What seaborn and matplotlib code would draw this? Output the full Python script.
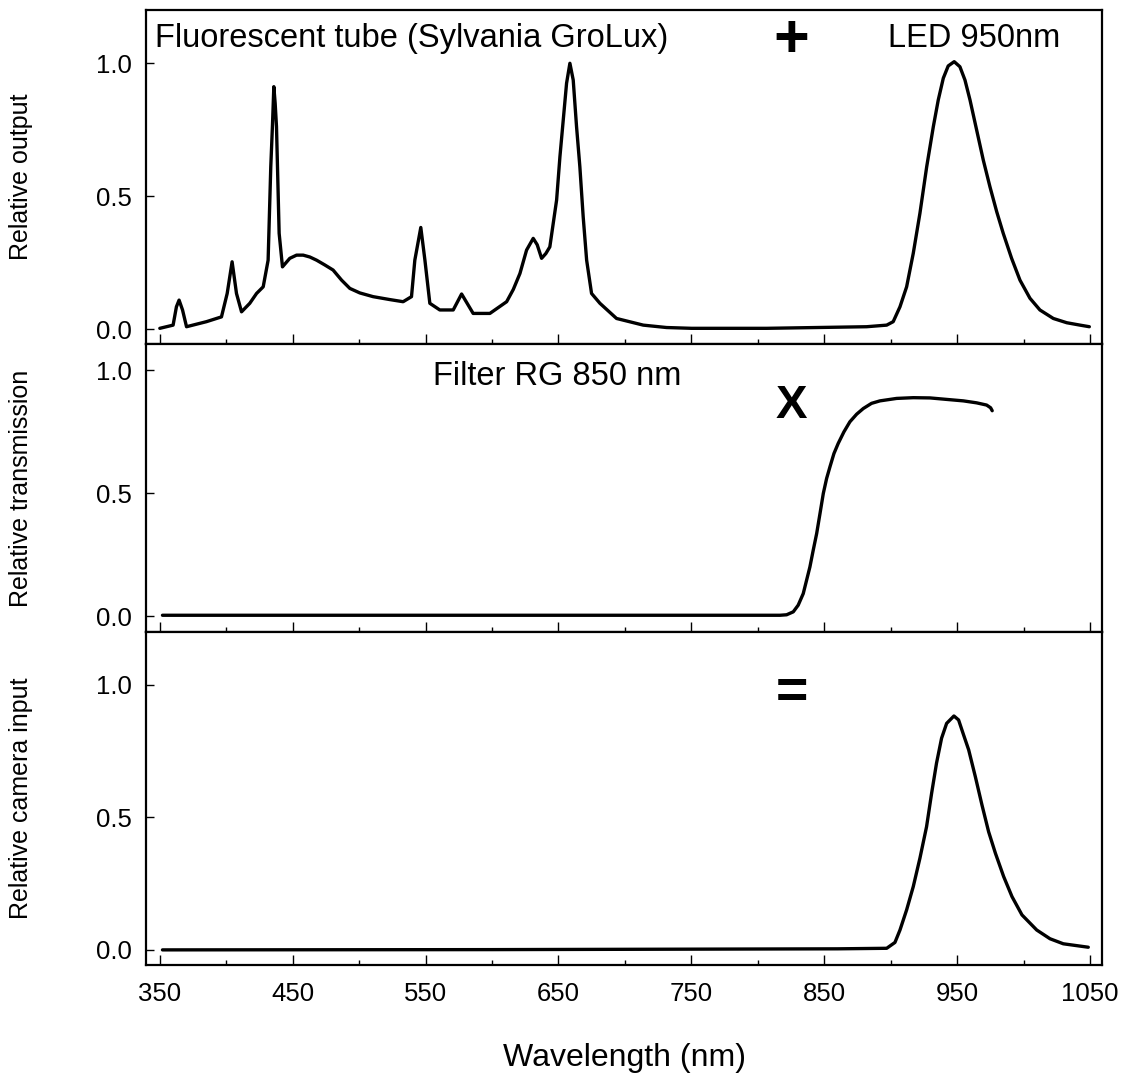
import numpy as np
import pandas as pd
import matplotlib
matplotlib.use("Agg")
import matplotlib.pyplot as plt
import seaborn as sns
from matplotlib.ticker import MultipleLocator

# --------------------------------------------
# Data
# --------------------------------------------
# Fluorescent tube (GroLux) + LED 950nm, relative output
wl_source = [350.0, 360.0, 362.5, 364.5, 367.1, 370.1, 385.1, 396.4, 400.7, 404.4,
             407.7, 411.5, 417.7, 422.8, 427.8, 431.5, 433.5, 434.8, 435.8, 436.8,
             437.8, 439.8, 442.3, 447.8, 452.9, 457.9, 462.9, 468.0, 474.2, 480.4,
             486.8, 493.0, 500.5, 510.5, 523.1, 533.1, 539.4, 541.9, 546.4, 549.5,
             553.2, 560.7, 570.8, 577.1, 585.8, 598.4, 611.0, 616.0, 621.0, 626.0,
             631.0, 634.0, 637.3, 640.5, 643.5, 648.6, 651.1, 653.6, 656.1, 658.6,
             661.1, 663.6, 666.1, 668.6, 671.2, 674.9, 681.2, 693.7, 713.8, 731.3,
             750.2, 806.6, 881.9, 897.0, 901.9, 907.0, 912.0, 917.0, 922.0, 927.1,
             932.1, 935.8, 939.6, 943.3, 947.8, 952.1, 955.9, 959.7, 964.7, 969.7,
             974.7, 979.8, 984.7, 991.0, 997.3, 1004.8, 1012.3, 1022.4, 1032.5, 1042.5,
             1049.5]
out_source = [0.004, 0.016, 0.085, 0.110, 0.073, 0.010, 0.029, 0.047, 0.135, 0.254,
              0.135, 0.066, 0.098, 0.135, 0.160, 0.260, 0.611, 0.770, 0.912, 0.850,
              0.762, 0.361, 0.235, 0.267, 0.279, 0.279, 0.272, 0.260, 0.242, 0.223,
              0.185, 0.154, 0.137, 0.123, 0.112, 0.104, 0.123, 0.260, 0.383, 0.260,
              0.098, 0.073, 0.073, 0.133, 0.060, 0.060, 0.104, 0.150, 0.210, 0.298,
              0.342, 0.318, 0.267, 0.285, 0.310, 0.486, 0.649, 0.787, 0.925, 1.000,
              0.937, 0.762, 0.611, 0.423, 0.260, 0.135, 0.098, 0.041, 0.016, 0.007,
              0.004, 0.004, 0.010, 0.016, 0.029, 0.085, 0.160, 0.286, 0.436, 0.611,
              0.762, 0.862, 0.944, 0.990, 1.006, 0.987, 0.937, 0.862, 0.749, 0.636,
              0.536, 0.442, 0.361, 0.267, 0.185, 0.117, 0.073, 0.041, 0.025, 0.016,
              0.010]

# Filter RG 850 nm, relative transmission
wl_filter = [352.0, 600.0, 816.7, 821.7, 826.7, 830.4, 834.2, 836.7, 839.2, 841.7,
             844.3, 846.8, 849.3, 851.8, 854.3, 857.3, 860.5, 864.8, 869.3, 874.4,
             879.4, 885.6, 891.9, 904.5, 917.0, 929.6, 942.1, 954.7, 964.7, 972.2,
             975.2, 976.4]
tr_filter = [0.004, 0.004, 0.004, 0.006, 0.018, 0.045, 0.092, 0.146, 0.200, 0.268,
             0.336, 0.417, 0.499, 0.560, 0.607, 0.661, 0.702, 0.749, 0.790, 0.821,
             0.844, 0.865, 0.875, 0.885, 0.888, 0.887, 0.881, 0.875, 0.867, 0.858,
             0.847, 0.835]

# Product, relative camera input
wl_camera = [352.0, 600.0, 860.0, 897.0, 903.2, 907.0, 912.0, 917.0, 922.0, 927.0,
             930.8, 934.5, 938.3, 942.1, 947.6, 951.1, 954.9, 958.7, 963.7, 968.7,
             973.7, 978.8, 985.0, 991.3, 998.8, 1009.9, 1019.9, 1029.9, 1040.0, 1048.7]
in_camera = [0.000, 0.001, 0.004, 0.006, 0.028, 0.075, 0.151, 0.239, 0.346, 0.465,
             0.591, 0.705, 0.799, 0.855, 0.883, 0.868, 0.811, 0.755, 0.654, 0.547,
             0.446, 0.365, 0.277, 0.201, 0.132, 0.075, 0.042, 0.023, 0.016, 0.010]

panels = [
    (wl_source, out_source, "Relative output", (-0.055, 1.2)),
    (wl_filter, tr_filter, "Relative transmission", (-0.064, 1.106)),
    (wl_camera, in_camera, "Relative camera input", (-0.057, 1.2)),
]

# --------------------------------------------
# Style
# --------------------------------------------
sns.set_style("ticks")
plt.rcParams['font.family'] = ['Liberation Sans', 'DejaVu Sans']
plt.rcParams['text.color'] = 'black'
plt.rcParams['axes.labelcolor'] = 'black'
plt.rcParams['xtick.color'] = 'black'
plt.rcParams['ytick.color'] = 'black'

fig = plt.figure(figsize=(11.22, 10.8), dpi=100)
gs = fig.add_gridspec(3, 1, height_ratios=[334, 288, 333], hspace=0,
                      left=0.130, right=0.9825, top=0.9907, bottom=0.1065)

axes = []
for i, (x, y, ylab, ylim) in enumerate(panels):
    ax = fig.add_subplot(gs[i])
    df = pd.DataFrame({"wl": x, "val": y})
    sns.lineplot(data=df, x="wl", y="val", color="black", linewidth=2.4,
                 sort=False, ax=ax)
    ax.set_xlim(339.5, 1059.3)
    ax.set_ylim(*ylim)
    ax.set_yticks([0.0, 0.5, 1.0])
    ax.set_yticklabels(["0.0", "0.5", "1.0"])
    ax.xaxis.set_minor_locator(MultipleLocator(50))
    ax.set_xticks(np.arange(350, 1051, 100))
    ax.tick_params(axis="x", which="major", direction="in", length=7, width=1,
                   labelsize=18.5, pad=12)
    ax.tick_params(axis="x", which="minor", direction="in", length=3.5, width=1)
    ax.tick_params(axis="y", direction="in", length=6, width=1,
                   labelsize=18.5, pad=10)
    for s in ax.spines.values():
        s.set_linewidth(1.6)
        s.set_color("black")
    ax.set_ylabel(ylab, fontsize=18)
    ax.yaxis.set_label_coords(-0.118, 0.5)
    ax.set_xlabel("")
    if i < 2:
        ax.tick_params(axis="x", labelbottom=False)
    axes.append(ax)

ax1, ax2, ax3 = axes

ax3.set_xticklabels([str(v) for v in range(350, 1051, 100)])
ax3.set_xlabel("Wavelength (nm)", fontsize=23)
ax3.xaxis.set_label_coords(0.5, -0.235)

# annotations
ax1.text(346.2, 1.062, "Fluorescent tube (Sylvania GroLux)", fontsize=23.5,
         ha="left", va="baseline")
ax1.text(898.2, 1.062, "LED 950nm", fontsize=23.5, ha="left", va="baseline")
ax1.text(825.4, 1.106, "+", fontsize=44, fontweight="bold",
         ha="center", va="center_baseline")
ax2.text(555.7, 0.939, "Filter RG 850 nm", fontsize=23.5, ha="left", va="baseline")
ax2.text(825.4, 0.876, "X", fontsize=34, fontweight="bold",
         ha="center", va="center_baseline")
ax3.text(825.4, 0.987, "=", fontsize=40, fontweight="bold",
         ha="center", va="center_baseline")

plt.savefig("out.png", dpi=100)
